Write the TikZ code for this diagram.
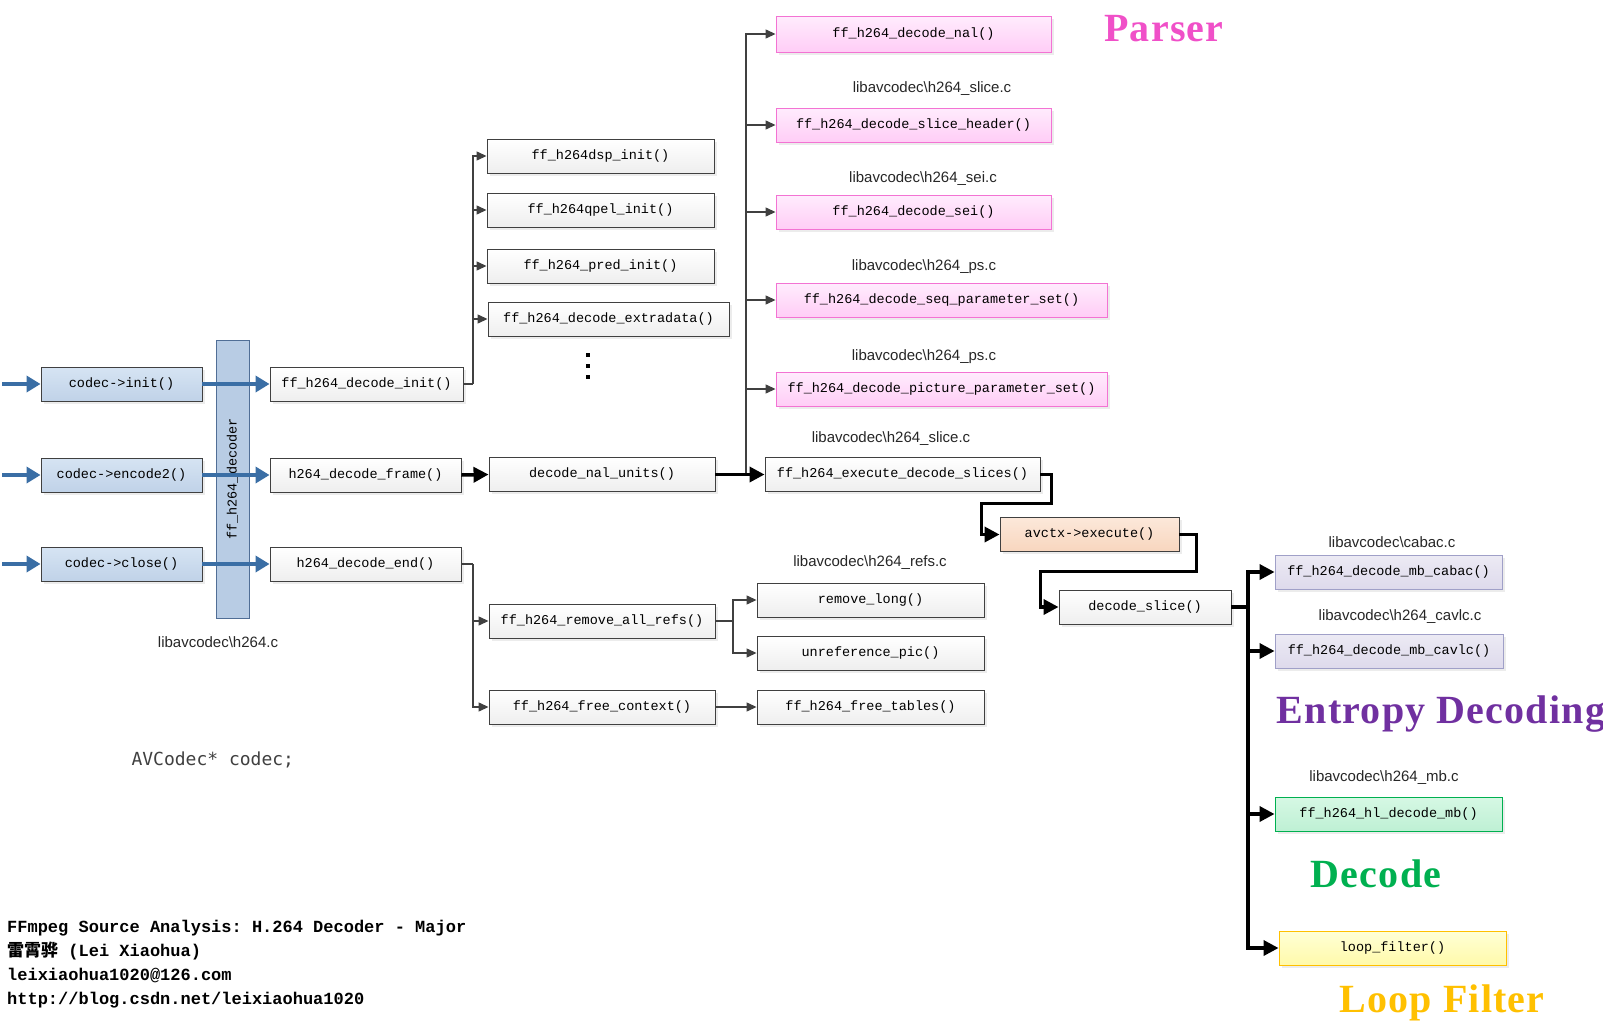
\documentclass[tikz,border=0pt]{standalone}
\usepackage{fontspec}
\setmainfont{Liberation Sans}
\setmonofont{Liberation Mono}
\newfontfamily\cjk{Noto Sans CJK SC}
\newfontfamily\codefont{DejaVu Sans Mono}
\newfontfamily\headfont[LetterSpace=3]{Liberation Serif}
\usetikzlibrary{arrows.meta, positioning, calc, shadows}
\definecolor{linegray}{RGB}{64,64,64}
\definecolor{codecblue}{RGB}{58,110,165}
\definecolor{parserpink}{RGB}{240,80,200}
\definecolor{entropyviolet}{RGB}{112,48,160}
\definecolor{decodegreen}{RGB}{0,176,80}
\definecolor{filtergold}{RGB}{255,192,0}
\newcommand{\src}[1]{libavcodec\textbackslash #1}

\tikzset{
    func/.style={draw=linegray, line width=0.9pt, top color=white, bottom color=gray!13,
        minimum height=34pt, inner sep=0pt, font=\ttfamily\fontsize{13.5}{15}\selectfont,
        drop shadow={shadow xshift=2.5pt, shadow yshift=-2.5pt, opacity=0.15}},
    apicall/.style={func, top color={rgb,255:red,214;green,228;blue,243}, bottom color={rgb,255:red,192;green,210;blue,232}},
    parser/.style={func, draw=parserpink!80, top color={rgb,255:red,255;green,236;blue,253}, bottom color={rgb,255:red,255;green,205;blue,246}},
    entropy/.style={func, draw={rgb,255:red,160;green,160;blue,200}, top color={rgb,255:red,236;green,234;blue,244}, bottom color={rgb,255:red,222;green,218;blue,236}},
    mbdec/.style={func, draw=decodegreen, top color={rgb,255:red,214;green,248;blue,228}, bottom color={rgb,255:red,190;green,240;blue,212}},
    lfilter/.style={func, draw=filtergold, top color={rgb,255:red,255;green,255;blue,214}, bottom color={rgb,255:red,255;green,250;blue,170}},
    execbox/.style={func, top color={rgb,255:red,252;green,232;blue,218}, bottom color={rgb,255:red,248;green,214;blue,190}},
    bar/.style={draw={rgb,255:red,80;green,110;blue,150}, line width=0.9pt, fill={rgb,255:red,184;green,204;blue,228},
        inner sep=0pt, font=\ttfamily\fontsize{13.5}{15}\selectfont},
    srcfile/.style={font=\fontsize{15}{17}\selectfont, text=black!85, inner sep=0pt},
    stage/.style={font=\headfont\bfseries\fontsize{40}{44}\selectfont, inner sep=0pt},
    line/.style={draw=linegray, line width=1.3pt},
    conn/.style={line, -{Triangle[length=10pt,width=9pt]}},
    heavy/.style={draw=black, line width=3.5pt},
    heavyarrow/.style={heavy, -{Triangle[length=15pt,width=15pt]}},
    bluearrow/.style={draw=codecblue, line width=3.5pt, -{Triangle[length=14pt,width=16pt]}}
}

\begin{document}
\begin{tikzpicture}[x=1pt, y=-1pt]
    \useasboundingbox (0,0) rectangle (1603,1028);
    % libavcodec\h264.c
    \node[bar, minimum width=278pt, minimum height=33pt, rotate=90] (dec) at (232.5,479) {ff\_h264\_decoder};
    \node[apicall, minimum width=161pt] (cinit) at (121.5,384) {codec->init()};
    \node[apicall, minimum width=161pt] (cenc) at (121.5,475) {codec->encode2()};
    \node[apicall, minimum width=161pt] (cclose) at (121.5,564) {codec->close()};
    \node[func, minimum width=193pt] (init) at (366.5,384) {ff\_h264\_decode\_init()};
    \node[func, minimum width=191pt] (frame) at (365.5,475) {h264\_decode\_frame()};
    \node[func, minimum width=191pt] (endf) at (365.5,564) {h264\_decode\_end()};
    \node[srcfile] (srcmain) at (218,642) {\src{h264.c}};
    \foreach \y/\n in {384/cinit, 475/cenc, 564/cclose} {
        \coordinate (in\n) at (2,\y);
        \draw[bluearrow] (in\n) -- (\n.west);
    }
    \draw[bluearrow] (cinit.east) -- (init.west);
    \draw[bluearrow] (cenc.east) -- (frame.west);
    \draw[bluearrow] (cclose.east) -- (endf.west);

    % init branch
    \node[func, minimum width=227pt] (dsp) at (600.5,156) {ff\_h264dsp\_init()};
    \node[func, minimum width=227pt] (qpel) at (600.5,210) {ff\_h264qpel\_init()};
    \node[func, minimum width=227pt] (pred) at (600.5,266) {ff\_h264\_pred\_init()};
    \node[func, minimum width=241pt] (extra) at (608.5,319) {ff\_h264\_decode\_extradata()};
    \foreach \y in {355,366,377} {
        \fill[black] (586,\y-2) rectangle (590,\y+2);
    }
    \coordinate (ibus) at (473,0);
    \draw[line] (init.east) -- (init.east -| ibus);
    \foreach \t in {dsp,qpel,pred,extra} {
        \draw[conn] (init.east -| ibus) |- (\t.west);
    }

    % frame -> decode_nal_units -> parser
    \node[func, minimum width=226pt] (units) at (602,474.5) {decode\_nal\_units()};
    \node[parser, minimum width=275pt, minimum height=36pt] (nal) at (913.5,34) {ff\_h264\_decode\_nal()};
    \node[parser, minimum width=275pt] (shdr) at (913.5,125) {ff\_h264\_decode\_slice\_header()};
    \node[parser, minimum width=275pt] (sei) at (913.5,212) {ff\_h264\_decode\_sei()};
    \node[parser, minimum width=331pt] (sps) at (941.5,300) {ff\_h264\_decode\_seq\_parameter\_set()};
    \node[parser, minimum width=331pt] (pps) at (941.5,389) {ff\_h264\_decode\_picture\_parameter\_set()};
    \node[srcfile] at (932,89) {\src{h264\_slice.c}};
    \node[srcfile] at (923,179) {\src{h264\_sei.c}};
    \node[srcfile] at (924,267) {\src{h264\_ps.c}};
    \node[srcfile] at (924,357) {\src{h264\_ps.c}};
    \node[stage, text=parserpink] (lblparser) at (1164,29) {Parser};
    \coordinate (pbus) at (746,0);
    \foreach \t in {nal,shdr,sei,sps,pps} {
        \draw[conn] (units.east -| pbus) |- (\t.west);
    }
    \draw[heavyarrow] (frame.east) -- (units.west);

    % slices
    \node[func, minimum width=275pt] (exec) at (902.5,474.5) {ff\_h264\_execute\_decode\_slices()};
    \node[srcfile] at (891,439) {\src{h264\_slice.c}};
    \node[execbox, minimum width=179pt] (avctx) at (1089.5,534.5) {avctx->execute()};
    \node[func, minimum width=172pt] (slice) at (1145,607) {decode\_slice()};
    \draw[heavyarrow] (units.east) -- (exec.west);
    \draw[heavyarrow] (exec.east) -- ++(11,0) -- ++(0,29) -| ([xshift=-18pt]avctx.west) -- (avctx.west);
    \draw[heavyarrow] (avctx.east) -- ++(17,0) -- ++(0,37) -| ([xshift=-18pt]slice.west) -- (slice.west);

    % macroblock level
    \node[entropy, minimum width=227pt] (cabac) at (1388.5,572) {ff\_h264\_decode\_mb\_cabac()};
    \node[entropy, minimum width=228pt] (cavlc) at (1389,651) {ff\_h264\_decode\_mb\_cavlc()};
    \node[mbdec, minimum width=227pt] (hlmb) at (1388.5,814) {ff\_h264\_hl\_decode\_mb()};
    \node[lfilter, minimum width=227pt] (lf) at (1392.5,948) {loop\_filter()};
    \node[srcfile] at (1392,542) {\src{cabac.c}};
    \node[srcfile] at (1400,617) {\src{h264\_cavlc.c}};
    \node[srcfile] at (1384,778) {\src{h264\_mb.c}};
    \node[stage, text=entropyviolet] (lblentropy) at (1441,714) {Entropy Decoding};
    \node[stage, text=decodegreen] (lbldecode) at (1376,874) {Decode};
    \node[stage, text=filtergold] (lblfilter) at (1442,1003) {Loop Filter};
    \coordinate (sbus) at (1248,0);
    \draw[heavy] (slice.east) -- (slice.east -| sbus);
    \foreach \t in {cabac,cavlc,hlmb,lf} {
        \draw[heavyarrow] (slice.east -| sbus) |- (\t.west);
    }

    % end branch
    \node[func, minimum width=226pt] (rmall) at (602,621) {ff\_h264\_remove\_all\_refs()};
    \node[func, minimum width=226pt] (freectx) at (602,707) {ff\_h264\_free\_context()};
    \node[func, minimum width=227pt] (rmlong) at (870.5,600) {remove\_long()};
    \node[func, minimum width=227pt] (unref) at (870.5,653) {unreference\_pic()};
    \node[func, minimum width=227pt] (freetab) at (870.5,707) {ff\_h264\_free\_tables()};
    \node[srcfile] at (870,563) {\src{h264\_refs.c}};
    \coordinate (ebus) at (473,0);
    \coordinate (rbus) at (733,0);
    \draw[line] (endf.east) -- (endf.east -| ebus);
    \foreach \t in {rmall,freectx} {
        \draw[conn] (endf.east -| ebus) |- (\t.west);
    }
    \draw[line] (rmall.east) -- (rmall.east -| rbus);
    \foreach \t in {rmlong,unref} {
        \draw[conn] (rmall.east -| rbus) |- (\t.west);
    }
    \draw[conn] (freectx.east) -- (freetab.west);

    % notes
    \node[anchor=west, font=\codefont\fontsize{18}{20}\selectfont, text=black!75] (avcodec) at (128,760) {AVCodec* codec;};
    \node[anchor=north west, align=left, inner sep=0pt, font=\ttfamily\bfseries\fontsize{17}{24}\selectfont] (credit) at (7,920)
        {FFmpeg Source Analysis: H.264 Decoder - Major\\{\cjk\bfseries 雷霄骅} (Lei Xiaohua)\\leixiaohua1020@126.com\\http://blog.csdn.net/leixiaohua1020};
\end{tikzpicture}
\end{document}
